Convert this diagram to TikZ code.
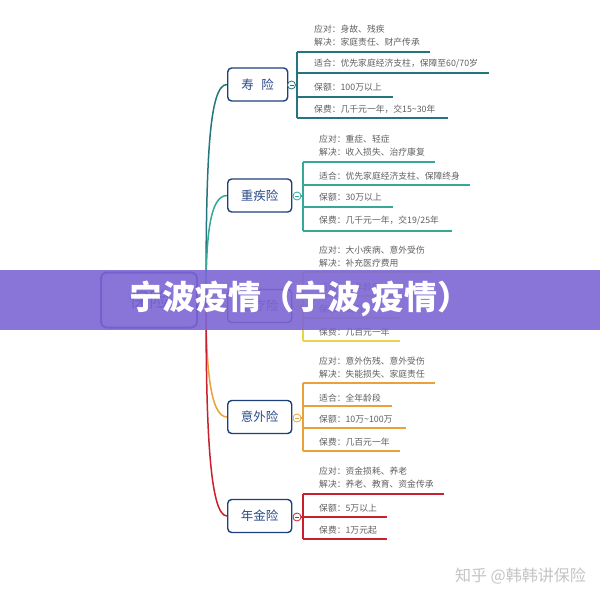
\documentclass[tikz,border=0pt]{standalone}
\usepackage{fontspec}
\newfontfamily\cjk{Noto Sans CJK SC}
\definecolor{cA}{HTML}{23767E}
\definecolor{cB}{HTML}{35A898}
\definecolor{cC}{HTML}{E8D44A}
\definecolor{cD}{HTML}{E9A23B}
\definecolor{cE}{HTML}{C8202C}
\definecolor{boxc}{HTML}{1F3F7A}
\definecolor{boxt}{HTML}{2A4A88}
\definecolor{rootc}{HTML}{2B3A9C}
\definecolor{txt}{HTML}{606060}
\definecolor{band}{HTML}{7D66D3}
\definecolor{wmc}{HTML}{C4C4C4}
\tikzset{
  branch/.style={draw=boxc, line width=1.4pt, rounded corners=4pt, fill=white,
    minimum height=33pt, minimum width=64pt, text=boxt, inner sep=0pt, anchor=west,
    font=\cjk\fontsize{12.5}{14}\selectfont},
  btn/.style={circle, fill=white, line width=0.8pt, minimum size=8pt, inner sep=0pt,
    path picture={\draw[line width=0.6pt] ([xshift=-2pt]path picture bounding box.center) -- ([xshift=2pt]path picture bounding box.center);}},
  item/.style={anchor=west, inner sep=0pt, text=txt, align=left,
    font=\cjk\fontsize{8.8}{13}\selectfont},
  sub/.style={line width=1.3pt},
  conn/.style={line width=1.5pt},
}
\begin{document}
\begin{tikzpicture}[x=1pt,y=-1pt]
\useasboundingbox[fill=white] (0,0) rectangle (600,600);
% root
\node[draw=rootc, line width=2pt, rounded corners=6pt, minimum width=96pt, minimum height=55pt,
  text=rootc, font=\cjk\fontsize{20}{22}\selectfont] (root) at (149,300) {保险};
\coordinate (hub) at (206,300);
% connectors
\draw[cA, conn] (hub) .. controls (206,160) and (209,84.5) .. (227,84.5);
\draw[cB, conn] (hub) .. controls (206,240) and (209,195.5) .. (227,195.5);
\draw[cC, conn] (hub) .. controls (210,300) and (214,306) .. (227,306);
\draw[cD, conn] (hub) .. controls (206,360) and (209,417) .. (227,417);
\draw[cE, conn] (hub) .. controls (206,420) and (209,516) .. (227,516);
% branch 1
\node[branch, minimum width=60pt] (b1) at (227,84.5) {寿\hspace{0.6em}险};
\coordinate (v1t) at (297,52); \coordinate (v1b) at (297,118);
\draw[cA, sub] (v1t) -- (v1b);
\node[btn, draw=cA] (k1) at (291.5,85) {};
\draw[cA, sub] (k1.east) -- (k1.east -| v1t);
\node[item] (t11) at (314,35.5) {应对：身故、残疾\\解决：家庭责任、财产传承};
\draw[cA, sub] (v1t) -- (430,52);
\node[item] (t12) at (314,64) {适合：优先家庭经济支柱，保障至60/70岁};
\draw[cA, sub] (297,73) -- (489,73);
\node[item] (t13) at (314,87) {保额：100万以上};
\draw[cA, sub] (297,97) -- (393,97);
\node[item] (t14) at (314,109) {保费：几千元一年，交15\textasciitilde30年};
\draw[cA, sub] (297,118) -- (448,118);
% branch 2
\node[branch] (b2) at (227,195.5) {重疾险};
\coordinate (v2t) at (303,162); \coordinate (v2b) at (303,231);
\draw[cB, sub] (v2t) -- (v2b);
\node[btn, draw=cB] (k2) at (297,196) {};
\draw[cB, sub] (k2.east) -- (k2.east -| v2t);
\node[item] (t21) at (319,146) {应对：重症、轻症\\解决：收入损失、治疗康复};
\draw[cB, sub] (v2t) -- (435,162);
\node[item] (t22) at (319,176) {适合：优先家庭经济支柱、保障终身};
\draw[cB, sub] (303,185) -- (470,185);
\node[item] (t23) at (319,197) {保额：30万以上};
\draw[cB, sub] (303,207) -- (393,207);
\node[item] (t24) at (319,221) {保费：几千元一年，交19/25年};
\draw[cB, sub] (303,231) -- (452,231);
% branch 3
\node[branch] (b3) at (227,306) {医疗险};
\coordinate (v3t) at (303,272); \coordinate (v3b) at (303,341);
\draw[cC, sub] (v3t) -- (v3b);
\node[btn, draw=cC] (k3) at (297,306) {};
\draw[cC, sub] (k3.east) -- (k3.east -| v3t);
\node[item] (t31) at (319,257) {应对：大小疾病、意外受伤\\解决：补充医疗费用};
\draw[cC, sub] (v3t) -- (434,272);
\node[item] (t32) at (319,287) {适合：全年龄段};
\draw[cC, sub] (303,296) -- (434,296);
\node[item] (t33) at (319,309) {保额：百万};
\draw[cC, sub] (303,318) -- (400,318);
\node[item] (t34) at (319,332) {保费：几百元一年};
\draw[cC, sub] (303,341) -- (400,341);
% branch 4
\node[branch] (b4) at (227,417) {意外险};
\coordinate (v4t) at (303,383); \coordinate (v4b) at (303,451);
\draw[cD, sub] (v4t) -- (v4b);
\node[btn, draw=cD] (k4) at (297,418) {};
\draw[cD, sub] (k4.east) -- (k4.east -| v4t);
\node[item] (t41) at (319,368) {应对：意外伤残、意外受伤\\解决：失能损失、家庭责任};
\draw[cD, sub] (v4t) -- (435,383);
\node[item] (t42) at (319,398) {适合：全年龄段};
\draw[cD, sub] (303,406) -- (392,406);
\node[item] (t43) at (319,419) {保额：10万\textasciitilde100万};
\draw[cD, sub] (303,428) -- (406,428);
\node[item] (t44) at (319,442) {保费：几百元一年};
\draw[cD, sub] (303,451) -- (400,451);
% branch 5
\node[branch] (b5) at (227,516) {年金险};
\coordinate (v5t) at (303,494); \coordinate (v5b) at (303,539);
\draw[cE, sub] (v5t) -- (v5b);
\node[btn, draw=cE] (k5) at (297,517) {};
\draw[cE, sub] (k5.east) -- (k5.east -| v5t);
\node[item] (t51) at (319,478) {应对：资金损耗、养老\\解决：养老、教育、资金传承};
\draw[cE, sub] (v5t) -- (444,494);
\node[item] (t52) at (319,508) {保额：5万以上};
\draw[cE, sub] (303,517) -- (387,517);
\node[item] (t53) at (319,530) {保费：1万元起};
\draw[cE, sub] (303,539) -- (387,539);
% banner
\fill[band, opacity=0.9] (0,270) rectangle (600,330);
\node[text=white, inner sep=0pt, font=\cjk\bfseries\fontsize{33}{36}\selectfont] (title) at (300,299) {宁波疫情（宁波,疫情）};
% watermark
\node[text=wmc, inner sep=0pt, anchor=east, font=\cjk\fontsize{16}{18}\selectfont] (wm) at (586,576) {知乎 @韩韩讲保险};
\end{tikzpicture}
\end{document}
